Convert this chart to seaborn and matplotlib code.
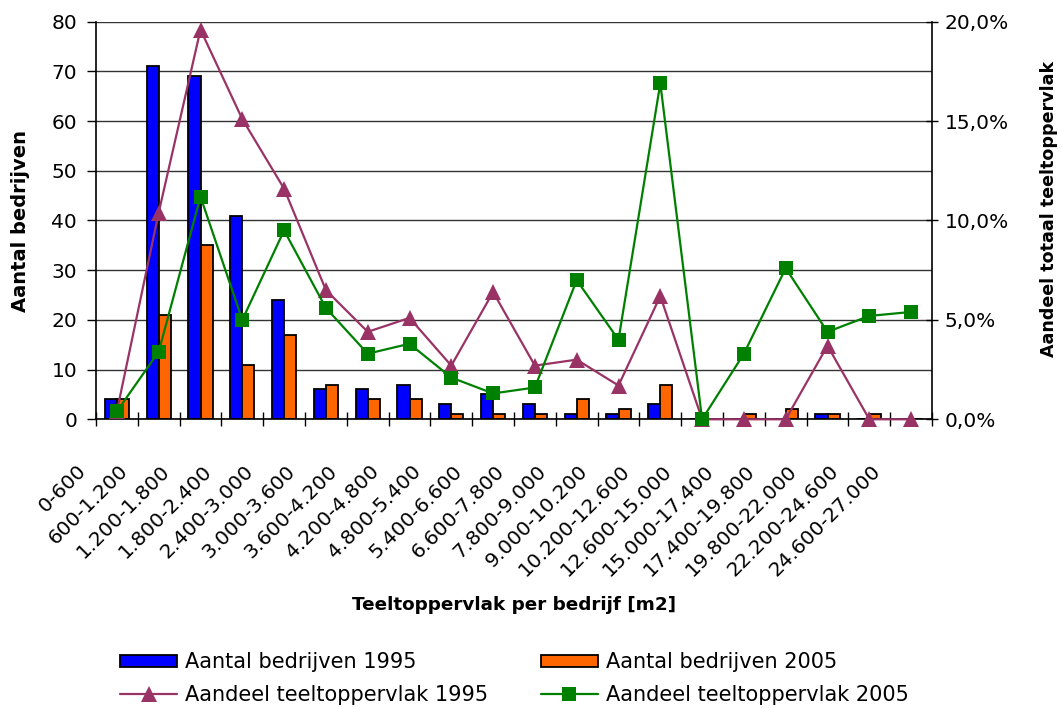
import numpy as np
import pandas as pd
import matplotlib
matplotlib.use("Agg")
import matplotlib.pyplot as plt
import matplotlib.transforms as mtransforms
from matplotlib.ticker import FixedLocator, FuncFormatter
from matplotlib.patches import Patch
from matplotlib.lines import Line2D
import seaborn as sns

# Size classes of cultivated area per farm (m2)
categories = [
    "0-600", "600-1.200", "1.200-1.800", "1.800-2.400", "2.400-3.000",
    "3.000-3.600", "3.600-4.200", "4.200-4.800", "4.800-5.400", "5.400-6.600",
    "6.600-7.800", "7.800-9.000", "9.000-10.200", "10.200-12.600", "12.600-15.000",
    "15.000-17.400", "17.400-19.800", "19.800-22.000", "22.200-24.600", "24.600-27.000",
]

# Number of farms per class
bedrijven_1995 = [4, 71, 69, 41, 24, 6, 6, 7, 3, 5, 3, 1, 1, 3, 0, 0, 0, 1, 0, 0]
bedrijven_2005 = [4, 21, 35, 11, 17, 7, 4, 4, 1, 1, 1, 4, 2, 7, 0, 1, 2, 1, 1, 0]

# Share of the total cultivated area per class (%)
aandeel_1995 = [0.4, 10.4, 19.6, 15.1, 11.6, 6.5, 4.4, 5.1, 2.7, 6.4,
                2.7, 3.0, 1.7, 6.2, 0.0, 0.0, 0.0, 3.7, 0.0, 0.0]
aandeel_2005 = [0.4, 3.4, 11.2, 5.0, 9.5, 5.6, 3.3, 3.8, 2.1, 1.3,
                1.6, 7.0, 4.0, 16.9, 0.0, 3.3, 7.6, 4.4, 5.2, 5.4]

left_ticks = [0, 10, 20, 30, 40, 50, 60, 70, 80]
right_ticks = [0, 5, 10, 15, 20]

series_bars = ["Aantal bedrijven 1995", "Aantal bedrijven 2005"]
series_lines = ["Aandeel teeltoppervlak 1995", "Aandeel teeltoppervlak 2005"]

BLUE, ORANGE = "#0000FF", "#FF6600"
PURPLE, GREEN = "#993366", "#008000"

sns.set_theme(style="white")
plt.rcParams["font.family"] = ["DejaVu Sans"]
plt.rcParams.update({
    "text.color": "black", "axes.labelcolor": "black",
    "xtick.color": "black", "ytick.color": "black",
})

W, H = 1062, 708
fig = plt.figure(figsize=(W / 100, H / 100), dpi=100)
ax = fig.add_axes([96 / W, 1 - 419.3 / H, 836 / W, 397.6 / H])

# Bars: number of farms
bars = pd.DataFrame({
    "klasse": categories * 2,
    "aantal": bedrijven_1995 + bedrijven_2005,
    "reeks": [series_bars[0]] * len(categories) + [series_bars[1]] * len(categories),
})
sns.barplot(data=bars, x="klasse", y="aantal", hue="reeks", order=categories,
            hue_order=series_bars, palette=[BLUE, ORANGE], saturation=1,
            width=0.58, gap=0, edgecolor="black", linewidth=1.3,
            legend=False, ax=ax, zorder=2)

ax.set_axisbelow(True)
ax.yaxis.grid(True, color="#333333", linewidth=1.0)
ax.xaxis.grid(False)

# Lines: share of cultivated area on the secondary axis
ax2 = ax.twinx()
for vals, color, marker, ms in [(aandeel_1995, PURPLE, "^", 11),
                                (aandeel_2005, GREEN, "s", 9.5)]:
    sns.lineplot(x=categories, y=vals, color=color, marker=marker,
                 markersize=ms, markeredgewidth=0, linewidth=1.6,
                 sort=False, legend=False, ax=ax2, clip_on=False)

ax.set_xlim(-0.5, len(categories) - 0.5)
ax.set_ylim(0, 80)
ax2.set_ylim(0, 20)

# Left axis
ax.set_yticks(left_ticks)
ax.tick_params(axis="y", which="major", left=True, direction="out",
               length=6.5, width=1, pad=7, labelsize=14.5)

# Right axis
ax2.set_yticks(right_ticks)
ax2.yaxis.set_major_formatter(FuncFormatter(lambda v, p: f"{v:.1f}%".replace(".", ",")))
ax2.tick_params(axis="y", which="major", right=True, direction="inout",
                length=8.6, width=1, pad=5, labelsize=14.5)

# Category axis: tick marks between classes, rotated labels
ax.xaxis.set_minor_locator(FixedLocator(np.arange(-0.5, len(categories), 1.0)))
ax.tick_params(axis="x", which="minor", bottom=True, direction="inout",
               length=9.4, width=1, color="black")
ax.tick_params(axis="x", which="major", bottom=True, length=0, pad=0)
ax.set_xticks(range(len(categories)))
ax.set_xticklabels(categories, rotation=45, ha="right", va="top",
                   rotation_mode="anchor", fontsize=14.5)
shift = mtransforms.ScaledTranslation(-40 / 100, -42 / 100, fig.dpi_scale_trans)
for lab in ax.get_xticklabels():
    lab.set_transform(lab.get_transform() + shift)

# Spines
for name in ["top", "right"]:
    ax.spines[name].set_visible(False)
for name in ["left", "bottom"]:
    ax.spines[name].set_color("black")
    ax.spines[name].set_linewidth(1.2)
for name in ["top", "left", "bottom"]:
    ax2.spines[name].set_visible(False)
ax2.spines["right"].set_color("black")
ax2.spines["right"].set_linewidth(1.2)

# Axis titles
ax.set_xlabel("Teeltoppervlak per bedrijf [m2]", fontsize=13.2, fontweight="bold")
ax.xaxis.set_label_coords(0.5, -0.444)
ax.xaxis.label.set_va("top")
ax.set_ylabel("Aantal bedrijven", fontsize=14, fontweight="bold")
ax.yaxis.set_label_coords(-0.079, 0.5)
ax2.set_ylabel("Aandeel totaal teeltoppervlak", fontsize=12.6, fontweight="bold")
ax2.yaxis.set_label_coords(1.129, 0.529)

# Legend below the plot
handles = [
    Patch(facecolor=BLUE, edgecolor="black", linewidth=1.3),
    Line2D([], [], color=PURPLE, marker="^", markersize=11, markeredgewidth=0, linewidth=1.6),
    Patch(facecolor=ORANGE, edgecolor="black", linewidth=1.3),
    Line2D([], [], color=GREEN, marker="s", markersize=9.5, markeredgewidth=0, linewidth=1.6),
]
labels = [series_bars[0], series_lines[0], series_bars[1], series_lines[1]]
fig.legend(handles, labels, ncol=2, loc="center", bbox_to_anchor=(0.4845, 0.0417),
           frameon=False, fontsize=15, handlelength=2.75, handleheight=0.55,
           handletextpad=0.4, columnspacing=2.5, labelspacing=0.58, borderpad=0,
           numpoints=1)

fig.savefig("out.png", dpi=100, facecolor="white")
